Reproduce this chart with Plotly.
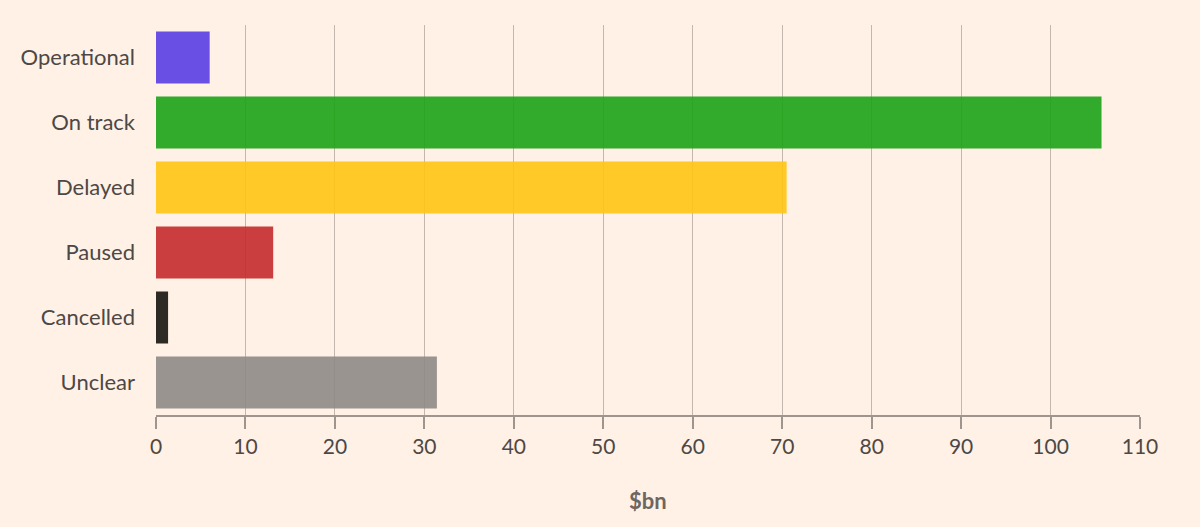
import plotly.graph_objects as go

categories = ["Operational", "On track", "Delayed", "Paused", "Cancelled", "Unclear"]
values = [6.0, 105.7, 70.5, 13.1, 1.35, 31.4]
bar_colors = ["#5a3ee6", "#1ca317", "#ffc613", "#c62b2e", "#171411", "#8e8a87"]
x_ticks = list(range(0, 111, 10))

fig = go.Figure(go.Bar(
    x=values, y=categories, orientation="h",
    marker=dict(color=bar_colors, line=dict(width=0)),
    opacity=0.9, hoverinfo="x+y",
))

fig.update_layout(
    width=1200, height=527,
    paper_bgcolor="#fff1e5", plot_bgcolor="#fff1e5",
    margin=dict(l=156, r=60, t=25, b=112),
    bargap=0.2, showlegend=False,
    font=dict(family="Lato, 'Open Sans', sans-serif", size=20, color="#4d4845"),
    annotations=[dict(text="<b>$bn</b>", x=0.5, xref="paper", y=-0.218, yref="paper",
                      yanchor="middle", showarrow=False,
                      font=dict(size=22, color="#6e6660", family="Lato, sans-serif"))],
)
fig.update_xaxes(
    range=[0, 110], tickvals=x_ticks, ticktext=[str(t) for t in x_ticks],
    showgrid=True, gridcolor="#c4b8ae", gridwidth=1.2,
    showline=True, linecolor="#9d958e", linewidth=1.5,
    ticks="outside", ticklen=12, tickwidth=2, tickcolor="#9d958e",
    zeroline=False, tickfont=dict(size=21, color="#4d4845"),
)
fig.update_yaxes(
    autorange="reversed", showgrid=False, zeroline=False, showline=False,
    ticks="", ticklabelstandoff=20, tickfont=dict(size=22, color="#4d4845"),
)

fig.write_html("out.html", config={"displayModeBar": False},
               post_script="document.body.style.margin='0';document.body.style.background='#fff1e5';")
